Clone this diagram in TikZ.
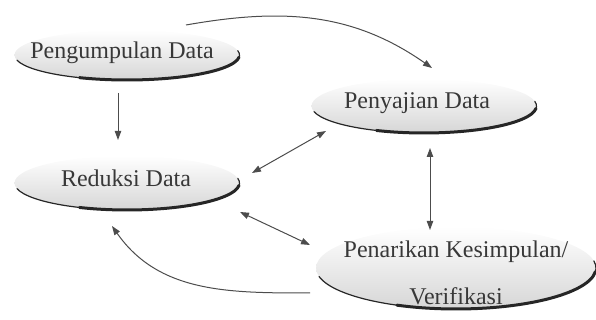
\documentclass[tikz,border=0pt]{standalone}
\usepackage{fontspec}
\setmainfont{Liberation Serif}
\usetikzlibrary{arrows.meta}
\pgfdeclarelayer{background}
\pgfsetlayers{background,main}
\tikzset{
  txt/.style={font=\fontsize{12}{23.5}\selectfont,text=black!78,align=center,inner sep=0pt},
  blob/.style={top color=white,bottom color=black!16},
  rim/.style={draw=black!85,line width=0.6pt,line cap=round},
  rimthick/.style={draw=black!85,line width=1.5pt,line cap=round},
  link/.style={draw=black!70,line width=0.5pt,-{Triangle[length=4.5pt,width=3.2pt]}},
  link2/.style={link,{Triangle[length=4.5pt,width=3.2pt]}-{Triangle[length=4.5pt,width=3.2pt]}}
}

\begin{document}
\begin{tikzpicture}[x=0.5pt,y=0.5pt]
  \useasboundingbox (0,0) rectangle (596,320);
  % texts
  \node[txt] (pg) at (122,267) {Pengumpulan Data};
  \node[txt] (pj) at (417,217) {Penyajian Data};
  \node[txt] (rd) at (126,142) {Reduksi Data};
  \node[txt] (pk) at (456,47) {Penarikan Kesimpulan/\\Verifikasi};
  % ellipses behind the texts
  \begin{pgfonlayer}{background}
    \path[blob] ([shift={(2.5pt,-1pt)}]pg.center) ellipse [x radius=56.25pt,y radius=12.5pt];
    \draw[rim] ([shift={(2.5pt,-1pt)}]pg.center) ++(192:56.25pt and 12.5pt) arc [start angle=192,end angle=370,x radius=56.25pt,y radius=12.5pt];
    \draw[rimthick] ([shift={(2.5pt,-1pt)}]pg.center) ++(245:56.25pt and 12.5pt) arc [start angle=245,end angle=355,x radius=56.25pt,y radius=12.5pt];
    \path[blob] ([shift={(3.5pt,-1.5pt)}]pj.center) ellipse [x radius=56.25pt,y radius=13.5pt];
    \draw[rim] ([shift={(3.5pt,-1.5pt)}]pj.center) ++(192:56.25pt and 13.5pt) arc [start angle=192,end angle=370,x radius=56.25pt,y radius=13.5pt];
    \draw[rimthick] ([shift={(3.5pt,-1.5pt)}]pj.center) ++(245:56.25pt and 13.5pt) arc [start angle=245,end angle=355,x radius=56.25pt,y radius=13.5pt];
    \path[blob] ([shift={(0.5pt,-2.5pt)}]rd.center) ellipse [x radius=56.25pt,y radius=13.5pt];
    \draw[rim] ([shift={(0.5pt,-2.5pt)}]rd.center) ++(192:56.25pt and 13.5pt) arc [start angle=192,end angle=370,x radius=56.25pt,y radius=13.5pt];
    \draw[rimthick] ([shift={(0.5pt,-2.5pt)}]rd.center) ++(245:56.25pt and 13.5pt) arc [start angle=245,end angle=355,x radius=56.25pt,y radius=13.5pt];
    \path[blob] ([shift={(0pt,2.5pt)}]pk.center) ellipse [x radius=70pt,y radius=20.5pt];
    \draw[rim] ([shift={(0pt,2.5pt)}]pk.center) ++(192:70pt and 20.5pt) arc [start angle=192,end angle=370,x radius=70pt,y radius=20.5pt];
    \draw[rimthick] ([shift={(0pt,2.5pt)}]pk.center) ++(245:70pt and 20.5pt) arc [start angle=245,end angle=355,x radius=70pt,y radius=20.5pt];
  \end{pgfonlayer}
  % connectors
  \draw[link] ([shift={(-2pt,-20pt)}]pg.center) -- ([shift={(-4pt,19pt)}]rd.center);
  \draw[link] ([shift={(32pt,14pt)}]pg.center) to[out=10,in=145] ([shift={(7.5pt,17.5pt)}]pj.center);
  \draw[link2] ([shift={(-45.5pt,-14pt)}]pj.center) -- ([shift={(63pt,2.5pt)}]rd.center);
  \draw[link2] ([shift={(6.5pt,-22.5pt)}]pj.center) -- ([shift={(-13pt,21.5pt)}]pk.center);
  \draw[link2] ([shift={(57pt,-17pt)}]rd.center) -- ([shift={(-73pt,14pt)}]pk.center);
  \draw[link] ([shift={(-73pt,-10pt)}]pk.center) to[out=180,in=-55] ([shift={(-7pt,-24pt)}]rd.center);
\end{tikzpicture}
\end{document}
